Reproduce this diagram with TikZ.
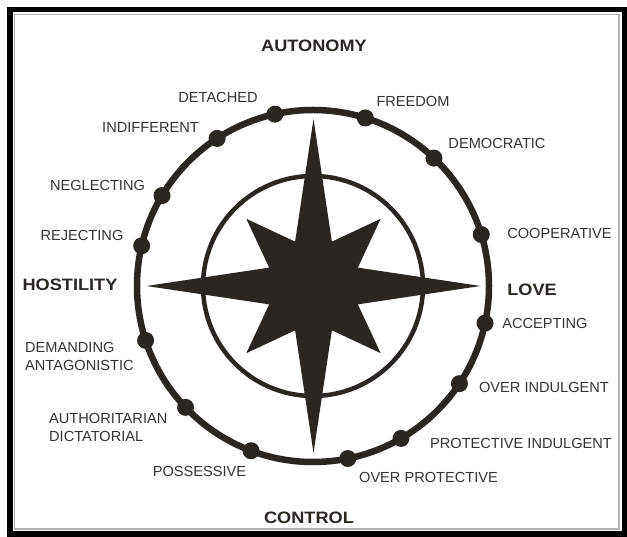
\documentclass[tikz,border=0pt]{standalone}
\usepackage{fontspec}
\setmainfont{Liberation Sans}
\newfontfamily\axisfont[FakeStretch=1.1]{Liberation Sans}
\definecolor{ink}{RGB}{42,39,35}
\definecolor{txt}{RGB}{52,52,52}

\begin{document}
\begin{tikzpicture}[x=1bp, y=1bp,
    trait/.style={inner sep=0pt, text=txt, font={\fontsize{14.6bp}{18bp}\selectfont}},
    axis/.style={inner sep=0pt, text=ink, font={\axisfont\bfseries\fontsize{16.5bp}{18bp}\selectfont}},
    dot/.style={circle, fill=ink, inner sep=0pt, minimum size=17bp}]
    \useasboundingbox (0,0) rectangle (627,537);
    \fill[white] (0,0) rectangle (627,537);
    % frame
    \draw[line width=5.5bp] (9.75,2.75) rectangle (624.25,527.25);
    \draw[gray!60, line width=1.2bp] (14.5,8) rectangle (619,522.5);

    \coordinate (c) at (313,251);
    \draw[ink, line width=6.5bp] (c) circle[radius=176];
    \draw[ink, line width=4.5bp] (c) circle[radius=110];

    % compass star
    \fill[ink, shift={(313.5,251)}]
        (0:167)
        \foreach \a in {0,90,180,270} {
            -- (\a+22.5:48) -- (\a+45:95) -- (\a+67.5:48) -- (\a+90:167)
        } -- cycle;

    % dots on the ring
    \foreach \name/\ang in {detached/102.5, freedom/72.7, indifferent/123,
            democratic/46.6, neglecting/149.1, cooperative/17, rejecting/166.8,
            demanding/198, accepting/-12.2, authoritarian/223.6,
            overindulgent/-33.7, possessive/249.4, protindulgent/-60,
            overprotective/-78.6}
        \node[dot] (d-\name) at ([shift={(\ang:176)}]c) {};

    % axes
    \node[axis] (autonomy) at (314,491) {AUTONOMY};
    \node[axis] (control) at (309,19) {CONTROL};
    \node[axis] (hostility) at (70,252) {HOSTILITY};
    \node[axis] (love) at (532,247) {LOVE};

    % traits
    \node[trait] (detached) at (218,440) {DETACHED};
    \node[trait] (indifferent) at (150.5,410) {INDIFFERENT};
    \node[trait] (neglecting) at (97.5,352) {NEGLECTING};
    \node[trait] (rejecting) at (82,302) {REJECTING};
    \node[trait, anchor=west, align=left] (demanding) at (25,181) {DEMANDING\\ANTAGONISTIC};
    \node[trait, anchor=west, align=left] (authoritarian) at (49,110) {AUTHORITARIAN\\DICTATORIAL};
    \node[trait] (possessive) at (199.5,66) {POSSESSIVE};
    \node[trait] (freedom) at (413,436) {FREEDOM};
    \node[trait] (democratic) at (497,394) {DEMOCRATIC};
    \node[trait] (cooperative) at (559.5,304) {COOPERATIVE};
    \node[trait] (accepting) at (545,214) {ACCEPTING};
    \node[trait] (overindulgent) at (544,150) {OVER INDULGENT};
    \node[trait] (protindulgent) at (521,94) {PROTECTIVE INDULGENT};
    \node[trait] (overprotective) at (428.5,60) {OVER PROTECTIVE};
\end{tikzpicture}
\end{document}
